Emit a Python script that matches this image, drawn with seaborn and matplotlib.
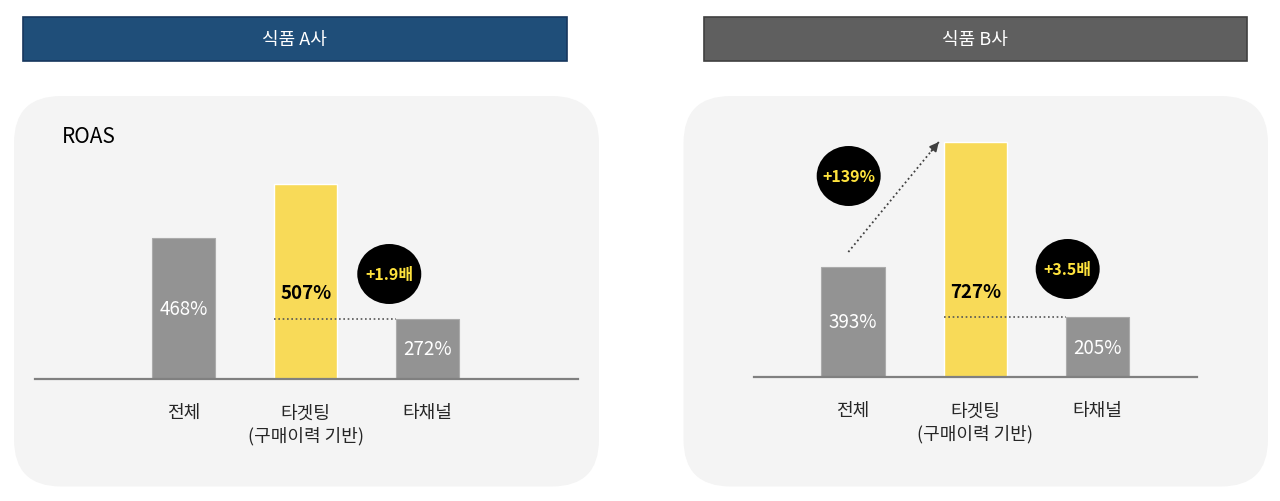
"""Two-panel ROAS comparison chart (식품 A사 / 식품 B사)."""

import matplotlib.pyplot as plt
import seaborn as sns
from matplotlib.patches import Ellipse, FancyBboxPatch, Rectangle

sns.set_style("white")
plt.rcParams["font.family"] = ["Noto Sans CJK KR", "DejaVu Sans"]

# --- data ----------------------------------------------------------------
categories = ["전체", "타겟팅\n(구매이력 기반)", "타채널"]
titles = ["식품 A사", "식품 B사"]

a_labels = ["468%", "507%", "272%"]
a_heights = [141, 195, 60]  # drawn bar heights (bars are not to scale)
a_badges = ["+1.9배"]

b_labels = ["393%", "727%", "205%"]
b_heights = [110, 235, 60]
b_badges = ["+139%", "+3.5배"]

GRAY = "#939393"
YELLOW = "#F8DA58"
BOX = "#F4F4F4"
W, H = 1280, 502
BAR_W = 0.517


def fig_rect(x0, x1, y_base, y_top):
    return [x0 / W, (H - y_base) / H, (x1 - x0) / W, (y_base - y_top) / H]


def draw_panel(fig, rect, xlim, labels, heights):
    ax = fig.add_axes(rect, zorder=2)
    ax.set_facecolor("none")
    sns.barplot(x=categories, y=heights, hue=categories,
                palette=[GRAY, YELLOW, GRAY], saturation=1, width=BAR_W,
                legend=False, ax=ax)
    for i, patch in enumerate(ax.patches):
        if i != 1:
            patch.set_edgecolor("#ABABAB")
            patch.set_linewidth(0.8)
    ax.set_xlim(*xlim)
    ax.set_ylim(0, rect[3] * H)
    ax.set_xticks(range(len(categories)))
    ax.set_xticklabels(categories, fontsize=13, color="#262626",
                       linespacing=1.32)
    ax.tick_params(axis="x", length=0, pad=17.5)
    ax.set_yticks([])
    ax.set_xlabel("")
    ax.set_ylabel("")
    for side in ["top", "left", "right"]:
        ax.spines[side].set_visible(False)
    ax.spines["bottom"].set_color("#808080")
    ax.spines["bottom"].set_linewidth(1.6)

    for i, (lab, h) in enumerate(zip(labels, heights)):
        if i == 1:
            ax.text(i, 86, lab, ha="center", va="center", fontsize=13.5,
                    fontweight="bold", color="black", zorder=4)
        else:
            ax.text(i, h / 2, lab, ha="center", va="center", fontsize=13.5,
                    color="white", zorder=4)

    # dotted reference line from highlight bar to last bar
    ax.plot([1 - BAR_W / 2, 2 - BAR_W / 2], [heights[2], heights[2]],
            ls=(0, (1, 1.6)), color="#555555", lw=1.2, zorder=3)
    return ax


def badge(ax, x, y, text):
    ppu = ax.bbox.width / (ax.get_xlim()[1] - ax.get_xlim()[0])
    ax.add_patch(Ellipse((x, y), 64 / ppu, 60, fc="black", ec="none",
                         zorder=5, clip_on=False))
    ax.text(x, y, text, ha="center", va="center", fontsize=11.5,
            fontweight="bold", color="#FFE33D", zorder=6)


def main():
    fig = plt.figure(figsize=(W / 100, H / 100), dpi=100)
    bg = fig.add_axes([0, 0, 1, 1], zorder=0)
    bg.set_xlim(0, W)
    bg.set_ylim(H, 0)
    bg.axis("off")

    # rounded panel backgrounds and header bars
    for x0, x1 in [(14, 599), (683.5, 1268)]:
        bg.add_patch(FancyBboxPatch((x0, 97), x1 - x0, 390.5,
                                    boxstyle="round,pad=0,rounding_size=47",
                                    fc=BOX, ec="none"))
    for (x0, x1), title, fc, ec in zip([(23, 566.7), (704, 1246.7)], titles,
                                       ["#1F4E79", "#5F5F5F"],
                                       ["#17375E", "#404040"]):
        bg.add_patch(Rectangle((x0, 18), x1 - x0, 44, fc=fc, ec=ec, lw=1.2))
        bg.text((x0 + x1) / 2, 40, title, ha="center", va="center",
                fontsize=13, color="white")
    bg.text(62, 137, "ROAS", ha="left", va="center", fontsize=15,
            color="black")

    ax_a = draw_panel(fig, fig_rect(35, 578.3, 380, 97), (-1.220, 3.235),
                      a_labels, a_heights)
    badge(ax_a, 1.685, 105, a_badges[0])

    ax_b = draw_panel(fig, fig_rect(754, 1197, 378, 97), (-0.809, 2.812),
                      b_labels, b_heights)
    badge(ax_b, -0.035, 201, b_badges[0])
    badge(ax_b, 1.755, 108, b_badges[1])

    # dotted growth arrow from first bar to top of highlight bar
    x_start, y_start = -0.038, b_heights[0] + 15
    x_end, y_end = 1 - BAR_W / 2 - 0.04, b_heights[1]
    slope = (y_end - y_start) / ((x_end - x_start) * 122)
    ax_b.plot([x_start, x_end], [y_start, y_end], ls=(0, (1, 1.6)),
              color="#404040", lw=1.3, zorder=3, clip_on=False)
    ax_b.annotate("", xy=(x_end, y_end),
                  xytext=(x_end - 0.06, y_end - 0.06 * 122 * slope),
                  arrowprops=dict(arrowstyle="-|>", color="#404040", lw=1.3,
                                  mutation_scale=13, shrinkA=0, shrinkB=0),
                  annotation_clip=False, zorder=3)

    fig.savefig("out.png", dpi=100)


if __name__ == "__main__":
    main()
